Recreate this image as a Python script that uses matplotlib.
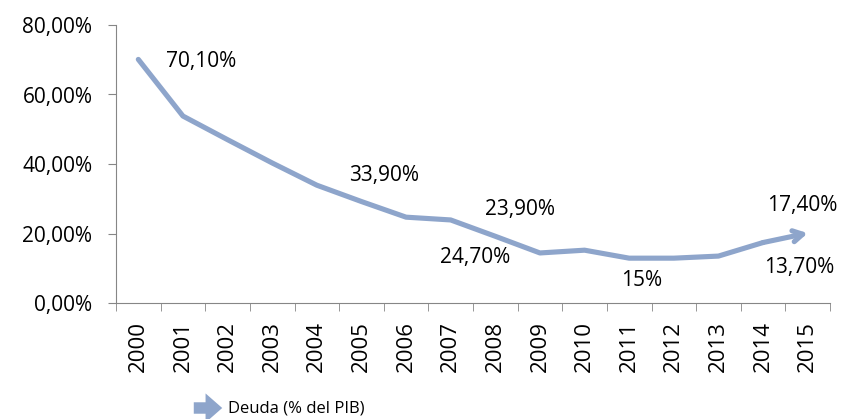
import matplotlib.pyplot as plt
from matplotlib.patches import FancyArrowPatch
from matplotlib.ticker import FuncFormatter, FixedLocator

plt.rcParams['font.family'] = ['Open Sans', 'DejaVu Sans']

years = [str(y) for y in range(2000, 2016)]
deuda = [70.1, 53.8, 47.0, 40.3, 33.9, 29.2, 24.7, 23.9, 19.2, 14.4, 15.2, 12.9, 12.9, 13.5, 17.4, 20.1]
label_texts = ['70,10%', '33,90%', '23,90%', '24,70%', '15%', '17,40%', '13,70%']
label_x = [1.4, 5.5, 8.55, 7.55, 11.27, 14.88, 14.8]
label_y = [69.4, 36.8, 26.8, 13.2, 6.6, 28.2, 10.1]

color = '#8EA5CB'

fig = plt.figure(figsize=(8.43, 4.19), dpi=100)
ax = fig.add_axes([116 / 843, 1 - 303 / 419, (830 - 116) / 843, (303 - 25) / 419])

x = list(range(len(years)))
ax.plot(x[:-1], deuda[:-1], color=color, lw=3.7, solid_capstyle='round', solid_joinstyle='round')
ax.annotate('', xy=(x[-1], deuda[-1]), xytext=(x[-2], deuda[-2]),
            arrowprops=dict(arrowstyle='->,head_length=0.7,head_width=0.4', color=color, lw=3.7,
                            shrinkA=0, shrinkB=0))

for t, lx, ly in zip(label_texts, label_x, label_y):
    ax.text(lx, ly, t, ha='center', va='center', fontsize=15)

ax.set_xlim(-0.5, 15.5)
ax.set_ylim(0, 80)
ax.set_yticks([0, 20, 40, 60, 80])
ax.yaxis.set_major_formatter(FuncFormatter(lambda v, p: f'{v:.2f}%'.replace('.', ',')))
ax.set_xticks(x)
ax.set_xticklabels(years, rotation=90, fontsize=16)
ax.xaxis.set_minor_locator(FixedLocator([i - 0.5 for i in range(len(years) + 1)]))
ax.tick_params(axis='x', which='major', length=0, pad=13)
ax.tick_params(axis='x', which='minor', length=6, color='#868686', direction='out')
ax.tick_params(axis='y', length=6, color='#868686', labelsize=15, direction='out', pad=11)

for s in ['top', 'right']:
    ax.spines[s].set_visible(False)
for s in ['left', 'bottom']:
    ax.spines[s].set_color('#868686')

# legend
fig.patches.append(FancyArrowPatch(
    (191 / 843, 1 - 408 / 419), (225 / 843, 1 - 408 / 419), transform=fig.transFigure,
    arrowstyle='simple,head_length=0.8,head_width=1.4,tail_width=0.55', mutation_scale=15,
    color=color, lw=0))
fig.text(228 / 843, 1 - 408 / 419, 'Deuda (% del PIB)', fontsize=12, va='center', ha='left')

fig.savefig('out.png', dpi=100)
